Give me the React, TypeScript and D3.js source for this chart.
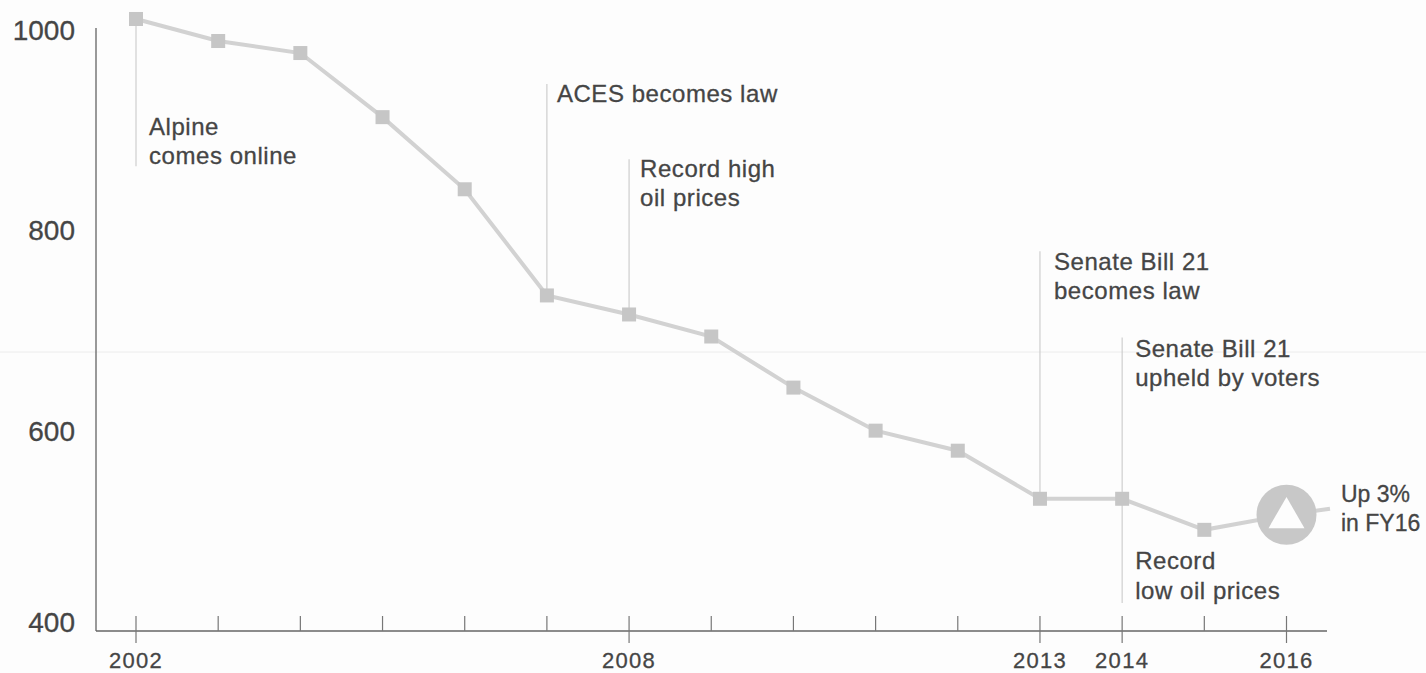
import React from "react";
import * as d3 from "d3";

const years = [2002, 2003, 2004, 2005, 2006, 2007, 2008, 2009, 2010, 2011, 2012, 2013, 2014, 2015, 2016];
const production = [1011, 989, 977, 913, 841, 735, 716, 694, 643, 600, 580, 532, 532, 501, 516];
const yTicks = [1000, 800, 600, 400];
const labelledYears = [2002, 2008, 2013, 2014, 2016];
const events = [
  { year: 2002, top: 1011, bottom: 864, lines: ["Alpine", "comes online"], baseline: 135, dx: 13 },
  { year: 2007, top: 946, bottom: 735, lines: ["ACES becomes law"], baseline: 102, dx: 10 },
  { year: 2008, top: 871, bottom: 716, lines: ["Record high", "oil prices"], baseline: 177, dx: 11 },
  { year: 2013, top: 779, bottom: 532, lines: ["Senate Bill 21", "becomes law"], baseline: 270, dx: 14 },
  { year: 2014, top: 693, bottom: 428, lines: ["Senate Bill 21", "upheld by voters"], baseline: 357, dx: 13 },
];
const lowPriceNote = ["Record", "low oil prices"];
const upNote = ["Up 3%", "in FY16"];

const x = d3.scaleLinear().domain([2002, 2016]).range([136, 1286.5]);
const y = d3.scaleLinear().domain([400, 1000]).range([631, 30]);
const line = d3.line<number>().x((_, i) => x(years[i])).y((d) => y(d));

const ink = "#454545";
const font = "'Liberation Sans', Arial, sans-serif";
// Shared look of the annotation text: slightly tracked, with a hairline stroke for weight.
const noteStyle = { fontSize: 24, letterSpacing: 0.55, fill: ink, stroke: ink, strokeWidth: 0.3 };

export default function App() {
  const last = production[production.length - 1];
  const cx = x(2016);
  const cy = y(last);
  const r = 30;
  return (
    <svg width={1426} height={673} style={{ position: "absolute", left: 0, top: 0, background: "#fdfdfd" }} fontFamily={font}>
      {/* faint horizontal crease across the page */}
      <line x1={0} x2={1426} y1={352} y2={352} stroke="#ececec" strokeWidth={1} />

      {/* axes */}
      <line x1={96} x2={96} y1={28} y2={631} stroke="#777" strokeWidth={1.5} />
      <line x1={96} x2={1327} y1={631} y2={631} stroke="#666" strokeWidth={1.5} />
      {years.map((yr) => (
        <line key={yr} x1={x(yr)} x2={x(yr)} y1={616} y2={labelledYears.includes(yr) ? 643 : 631} stroke="#777" strokeWidth={1.2} />
      ))}
      {yTicks.map((t) => (
        <text key={t} x={75} y={y(t) + (t === 400 ? 1 : 10)} textAnchor="end" fontSize={28} fill={ink} stroke={ink} strokeWidth={0.3}>
          {t}
        </text>
      ))}
      {labelledYears.map((yr) => (
        <text key={yr} x={x(yr)} y={668} textAnchor="middle" fontSize={22} letterSpacing={1.3} fill={ink} stroke={ink} strokeWidth={0.3}>
          {yr}
        </text>
      ))}

      {/* event markers */}
      {events.map((e) => (
        <g key={e.year}>
          <line x1={x(e.year)} x2={x(e.year)} y1={y(e.top)} y2={y(e.bottom)} stroke="#cacaca" strokeWidth={1.1} />
          {e.lines.map((l, i) => (
            <text key={l} x={x(e.year) + e.dx} y={e.baseline + i * 29} {...noteStyle}>
              {l}
            </text>
          ))}
        </g>
      ))}

      {/* series */}
      <path d={line(production) ?? ""} fill="none" stroke="#d2d2d2" strokeWidth={4} />
      <line x1={cx} x2={1330} y1={cy} y2={y(522)} stroke="#d2d2d2" strokeWidth={4} />
      {production.slice(0, -1).map((v, i) => (
        <rect key={years[i]} x={x(years[i]) - 7} y={y(v) - 7} width={14} height={14} fill="#c6c6c6" />
      ))}

      {/* latest-year badge */}
      <circle cx={cx} cy={cy} r={r} fill="#c8c8c8" />
      <path d={d3.symbol(d3.symbolTriangle, 560)() ?? ""} transform={`translate(${cx},${cy + 3})`} fill="#fdfdfd" />

      {lowPriceNote.map((l, i) => (
        <text key={l} x={x(2014) + 13} y={569 + i * 30} {...noteStyle}>
          {l}
        </text>
      ))}
      {upNote.map((l, i) => (
        <text key={l} x={1341} y={502 + i * 29} fontSize={23} fill={ink} stroke={ink} strokeWidth={0.3}>
          {l}
        </text>
      ))}
    </svg>
  );
}
